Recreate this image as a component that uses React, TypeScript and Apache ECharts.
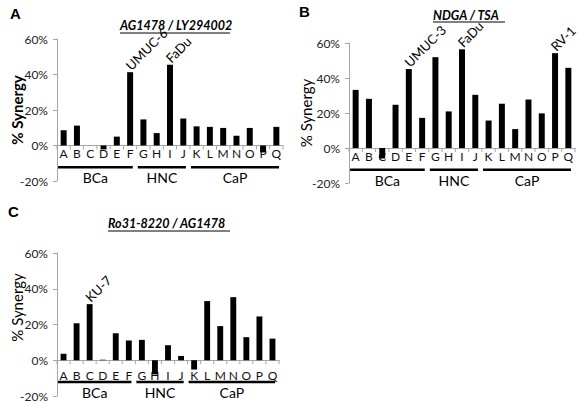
import React, { useEffect, useRef } from "react";
import * as echarts from "echarts";

const categories = ["A", "B", "C", "D", "E", "F", "G", "H", "I", "J", "K", "L", "M", "N", "O", "P", "Q"];
const groupNames = ["BCa", "HNC", "CaP"];
const groupStarts = [0, 6, 10];
const groupEnds = [5, 9, 16];

const synergyA = [8.6, 11.2, 0, -2.2, 5.0, 41.3, 14.7, 7.0, 45.5, 15.2, 10.8, 10.5, 9.9, 5.5, 9.9, -3.9, 10.5];
const synergyB = [33.2, 28.1, -6.0, 24.7, 45.1, 17.2, 51.9, 20.9, 56.4, 30.4, 15.7, 25.3, 10.8, 27.7, 19.8, 54.2, 45.8];
const synergyC = [3.7, 20.7, 31.4, 0.3, 15.1, 11.0, 11.4, -7.9, 8.4, 2.4, -5.2, 33.1, 19.1, 35.3, 12.9, 24.5, 12.1];

const yMin = -20;
const yMax = 60;
const yStep = 20;

const titles = ["AG1478 / LY294002", "NDGA / TSA", "Ro31-8220 / AG1478"];
const panelLetters = ["A", "B", "C"];
const annotationsA: Record<number, string> = { 5: "UMUC-6", 8: "FaDu" };
const annotationsB: Record<number, string> = { 4: "UMUC-3", 8: "FaDu", 15: "RV-1" };
const annotationsC: Record<number, string> = { 2: "KU-7" };

const FONT = "Lato, 'Open Sans', sans-serif";
const AXIS_GRAY = "#a6a6a6";

export default function App() {
  const ref = useRef<HTMLDivElement>(null);

  useEffect(() => {
    if (!ref.current) return;
    const chart = echarts.init(ref.current, null, { renderer: "svg" });

    const grids = [
      { left: 57, top: 39, width: 226, height: 142 },
      { left: 349, top: 43, width: 226, height: 140 },
      { left: 57, top: 253, width: 222, height: 143 },
    ];
    const datasets = [synergyA, synergyB, synergyC];
    const annots = [annotationsA, annotationsB, annotationsC];
    const nameBold = [true, false, false];
    const namePad = [[0, 0, 0, 0], [0, 0, 0, 0], [0, 0, 0, 34]];
    const nameGaps = [40, 43, 40];
    const catLabelOffset = [8, 8, 15];

    const xAxes = grids.map((_, i) => ({
      type: "category",
      gridIndex: i,
      data: categories,
      axisLine: { onZero: true, lineStyle: { color: AXIS_GRAY, width: 1 } },
      axisTick: { show: false },
      axisLabel: { show: false },
    }));

    const yAxes = grids.map((_, i) => ({
      type: "value",
      gridIndex: i,
      min: yMin,
      max: yMax,
      interval: yStep,
      name: "% Synergy",
      nameLocation: "middle",
      nameRotate: 90,
      nameGap: nameGaps[i],
      nameMoveOverlap: false,
      nameTextStyle: {
        fontSize: 15,
        fontFamily: FONT,
        fontWeight: nameBold[i] ? "bold" : "normal",
        color: "#000",
        padding: namePad[i],
        verticalAlign: "middle",
      },
      axisLine: { show: true, lineStyle: { color: AXIS_GRAY } },
      axisTick: { show: true, length: 4, lineStyle: { color: AXIS_GRAY } },
      splitLine: { show: false },
      axisLabel: {
        formatter: "{value}%",
        margin: 9,
        fontSize: 12,
        fontFamily: FONT,
        color: "#222",
      },
    }));

    const barSeries = datasets.map((vals, i) => ({
      type: "bar",
      xAxisIndex: i,
      yAxisIndex: i,
      barWidth: "45%",
      itemStyle: { color: "#000" },
      z: 3,
      data: vals,
    }));

    const annotSeries = datasets.map((vals, i) => {
      const idx = Object.keys(annots[i]).map(Number);
      return {
        type: "custom",
        xAxisIndex: i,
        yAxisIndex: i,
        silent: true,
        clip: false,
        z: 4,
        encode: { x: 0, y: 1 },
        data: idx.map((k) => [k, vals[k]]),
        renderItem: (params: any, api: any) => {
          const k = api.value(0);
          const c = api.coord([k, api.value(1)]);
          return {
            type: "text",
            x: c[0] + 2.5,
            y: c[1],
            rotation: Math.PI / 4,
            style: {
              text: annots[i][k],
              x: 0,
              y: 0,
              align: "left",
              verticalAlign: "bottom",
              textAlign: "left",
              textVerticalAlign: "bottom",
              fontSize: 13,
              fontFamily: FONT,
              fill: "#000",
            },
          };
        },
      };
    });

    const catSeries = grids.map((_, i) => ({
      type: "custom",
      xAxisIndex: i,
      yAxisIndex: i,
      silent: true,
      clip: false,
      z: 1,
      encode: { x: 0, y: 1 },
      data: categories.map((_, k) => [k, 0]),
      renderItem: (params: any, api: any) => {
        const c = api.coord([api.value(0), 0]);
        const bw = api.size([1, 0])[0];
        const k = params.dataIndex;
        const children: any[] = [
          {
            type: "line",
            shape: { x1: c[0] - bw / 2, y1: c[1], x2: c[0] - bw / 2, y2: c[1] + 4 },
            style: { stroke: AXIS_GRAY, lineWidth: 1 },
          },
          {
            type: "text",
            style: {
              text: categories[k],
              x: c[0],
              y: c[1] + catLabelOffset[i],
              align: "center",
              verticalAlign: "middle",
              textAlign: "center",
              textVerticalAlign: "middle",
              fontSize: 12,
              fontFamily: FONT,
              fill: "#111",
            },
          },
        ];
        if (k === categories.length - 1) {
          children.push({
            type: "line",
            shape: { x1: c[0] + bw / 2, y1: c[1], x2: c[0] + bw / 2, y2: c[1] + 4 },
            style: { stroke: AXIS_GRAY, lineWidth: 1 },
          });
        }
        return { type: "group", children };
      },
    }));

    const groupSeries = grids.map((_, i) => ({
      type: "custom",
      xAxisIndex: i,
      yAxisIndex: i,
      silent: true,
      clip: false,
      encode: { x: [0, 1], y: 2 },
      data: groupNames.map((_, g) => [groupStarts[g], groupEnds[g], 0]),
      renderItem: (params: any, api: any) => {
        const s = api.coord([api.value(0), 0]);
        const e = api.coord([api.value(1), 0]);
        const bw = api.size([1, 0])[0];
        const name = groupNames[params.dataIndex];
        const x0 = s[0] - 0.42 * bw;
        const x1 = e[0] + 0.2 * bw;
        return {
          type: "group",
          children: [
            {
              type: "rect",
              shape: { x: x0, y: s[1] + 20.5, width: x1 - x0, height: 2.5 },
              style: { fill: "#000" },
            },
            {
              type: "text",
              style: {
                text: name,
                x: (x0 + x1) / 2,
                y: s[1] + 32,
                align: "center",
                verticalAlign: "middle",
                textAlign: "center",
                textVerticalAlign: "middle",
                fontSize: 14,
                fontFamily: FONT,
                fill: "#000",
              },
            },
          ],
        };
      },
    }));

    const titlePos = [
      { x: 175, y: 26, w: 110, uy: 33 },
      { x: 469, y: 16, w: 72, uy: 22 },
      { x: 169, y: 224, w: 122, uy: 231 },
    ];
    const letterPos = [
      { x: 10, y: 13 },
      { x: 299, y: 11 },
      { x: 8, y: 211 },
    ];

    const graphic: any[] = [];
    titlePos.forEach((p, i) => {
      graphic.push({
        type: "text",
        left: p.x - p.w / 2,
        top: p.y - 7,
        style: {
          text: titles[i],
          font: `italic bold 12.5px ${FONT}`,
          fill: "#000",
        },
      });
      graphic.push({
        type: "line",
        shape: { x1: p.x - p.w / 2, y1: p.uy, x2: p.x + p.w / 2, y2: p.uy },
        style: { stroke: "#000", lineWidth: 1 },
      });
    });
    letterPos.forEach((p, i) => {
      graphic.push({
        type: "text",
        left: p.x,
        top: p.y - 7,
        style: {
          text: panelLetters[i],
          font: `bold 15px 'Liberation Sans', Arial, sans-serif`,
          fill: "#000",
        },
      });
    });

    chart.setOption({
      animation: false,
      backgroundColor: "#fff",
      grid: grids,
      xAxis: xAxes,
      yAxis: yAxes,
      series: [...barSeries, ...annotSeries, ...catSeries, ...groupSeries],
      graphic,
    });

    return () => chart.dispose();
  }, []);

  return (
    <div
      ref={ref}
      style={{ position: "fixed", left: 0, top: 0, width: 581, height: 406 }}
    />
  );
}
